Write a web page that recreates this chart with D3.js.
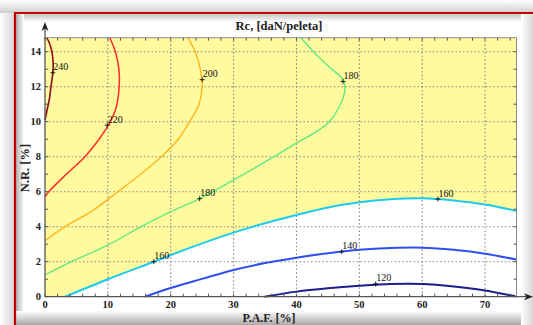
<!DOCTYPE html>
<html>
<head>
<meta charset="utf-8">
<script src="https://cdn.jsdelivr.net/npm/d3@7/dist/d3.min.js"></script>
<style>
  html, body { margin: 0; padding: 0; background: #fff; }
  svg { display: block; }
</style>
</head>
<body>
<svg id="chart" width="533" height="325"></svg>
<script>
// Contour lines of Rc [daN/peleta] over P.A.F. [%] (x) and N.R. [%] (y)
const levels = [240, 220, 200, 180, 160, 140, 120];

const line240 = [[0,10.1],[0.35,10.7],[0.7,11.3],[0.95,12],[1.25,12.8],[1.3,13.3],[1.1,14],[0.7,14.5],[0.25,14.8]];
const line220 = [[0,5.7],[0.6,6.0],[3.4,7],[6.35,8],[8.6,9],[10.4,10],[11.3,10.8],[11.8,12],[11.75,13],[11.2,14],[10.3,14.8]];
const line200 = [[0,3.2],[3.2,4],[7.7,4.95],[11.6,6],[15.2,7],[18.5,8],[21.2,9],[23,10],[24.5,11],[25,12],[24.7,13],[23.9,14],[22.7,14.8]];
const line180 = [[0,1.24],[4.2,2],[10,2.95],[15.3,4],[20,4.86],[24.6,5.6],[30,6.67],[35,7.7],[40,8.77],[43,9.4],[45.2,10],[47,11],[47.7,11.8],[47.4,12.4],[45.3,13.1],[42.7,14],[40.7,14.8]];
const line160 = [[3.2,0],[10,1],[17.3,2],[21.4,2.57],[25,3.05],[30,3.66],[35,4.2],[40,4.67],[45,5.1],[50,5.4],[55,5.57],[60,5.62],[65,5.5],[70,5.27],[75,4.9]];
const line140 = [[15.9,0],[20,0.5],[25,1.02],[30,1.53],[35,1.92],[40,2.23],[45,2.48],[50,2.68],[55,2.78],[60,2.8],[65,2.68],[70,2.46],[75,2.12]];
const line120 = [[34.9,0],[40,0.29],[45,0.48],[50,0.62],[55,0.72],[60,0.72],[65,0.58],[70,0.36],[74.8,0.02]];

// Label anchors (marked with "+") on the contour lines
const labelLevels = [240, 220, 200, 180, 180, 160, 160, 140, 120];
const labelX = [1.25, 9.9, 25, 47.4, 24.6, 17.3, 62.5, 47.2, 52.6];
const labelY = [12.8, 9.8, 12.4, 12.3, 5.6, 2.0, 5.58, 2.57, 0.73];

const xTicks = [0, 10, 20, 30, 40, 50, 60, 70];
const yTicks = [0, 2, 4, 6, 8, 10, 12, 14];

const titleText = "Rc, [daN/peleta]";
const xLabel = "P.A.F. [%]";
const yLabel = "N.R. [%]";

const xMax = 75, yMax = 14.8;

const svg = d3.select("#chart");
const W = 533, H = 325;
const serif = "'Liberation Serif', 'DejaVu Serif', serif";

// ---------- frame with soft shadows ----------
const defs = svg.append("defs");
function grad(id, x1, y1, x2, y2, c1, c2) {
  const g = defs.append("linearGradient").attr("id", id)
    .attr("x1", x1).attr("y1", y1).attr("x2", x2).attr("y2", y2);
  g.append("stop").attr("offset", "0%").attr("stop-color", c1);
  g.append("stop").attr("offset", "100%").attr("stop-color", c2);
}
grad("gOutLeft", 0, 0, 1, 0, "#ffffff", "#d4d4d4");
grad("gOutTop", 0, 0, 0, 1, "#ffffff", "#cfcfcf");
grad("gInTop", 0, 0, 0, 1, "#c4c4c4", "#ffffff");
grad("gInLeft", 0, 0, 1, 0, "#b0b0b0", "#ffffff");
grad("gInBottom", 0, 0, 0, 1, "#ffffff", "#a8a8a8");
grad("gInRight", 0, 0, 1, 0, "#ffffff", "#d6d6d6");

svg.append("rect").attr("width", W).attr("height", H).attr("fill", "#fff");
svg.append("rect").attr("x", 0).attr("y", 0).attr("width", 15).attr("height", H).attr("fill", "url(#gOutLeft)");
svg.append("rect").attr("x", 0).attr("y", 0).attr("width", W).attr("height", 13).attr("fill", "url(#gOutTop)");
svg.append("rect").attr("x", 16).attr("y", 14).attr("width", W - 16).attr("height", 8).attr("fill", "url(#gInTop)");
svg.append("rect").attr("x", 16).attr("y", 14).attr("width", 8).attr("height", H - 14).attr("fill", "url(#gInLeft)");
svg.append("rect").attr("x", 16).attr("y", 311).attr("width", W - 16).attr("height", 14).attr("fill", "url(#gInBottom)");
svg.append("rect").attr("x", 521).attr("y", 14).attr("width", 12).attr("height", H - 14).attr("fill", "url(#gInRight)");
svg.append("line").attr("x1", 15).attr("x2", W).attr("y1", 13).attr("y2", 13)
  .attr("stroke", "#c20000").attr("stroke-width", 2.2);
svg.append("line").attr("x1", 15).attr("x2", 15).attr("y1", 12).attr("y2", H)
  .attr("stroke", "#c20000").attr("stroke-width", 2.2);

// ---------- scales ----------
const x = d3.scaleLinear().domain([0, xMax]).range([45, 516.5]);
const y = d3.scaleLinear().domain([0, yMax]).range([296.7, 37.7]);

// densify a line (in pixel space) with Catmull-Rom so the filled edge follows the drawn contour
function smoothPoints(pts) {
  const node = document.createElementNS("http://www.w3.org/2000/svg", "path");
  node.setAttribute("d", d3.line().curve(d3.curveCatmullRom.alpha(0.5))(pts));
  svg.node().appendChild(node);
  const len = node.getTotalLength();
  const out = [];
  for (let i = 0; i <= 200; i++) {
    const p = node.getPointAtLength(len * i / 200);
    out.push([p.x, p.y]);
  }
  node.remove();
  return out;
}

// ---------- filled region above the 160 contour ----------
const edge160 = smoothPoints(line160.map(d => [x(d[0]), y(d[1])]));
const fillPx = [[x(0), y(0)]].concat(edge160, [[x(xMax), y(yMax)], [x(0), y(yMax)]]);
svg.append("path")
  .attr("d", d3.line()(fillPx) + "Z")
  .attr("fill", "#fffa9e");

// ---------- grid ----------
const grid = svg.append("g").attr("stroke", "#8a8a8a").attr("stroke-width", 1.1)
  .attr("stroke-dasharray", "1.6,2.2");
xTicks.filter(t => t > 0).forEach(t => {
  grid.append("line").attr("x1", x(t)).attr("x2", x(t)).attr("y1", y(0)).attr("y2", y(yMax));
});
yTicks.filter(t => t > 0).forEach(t => {
  grid.append("line").attr("x1", x(0)).attr("x2", x(xMax)).attr("y1", y(t)).attr("y2", y(t));
});

// ---------- contour lines ----------
const contourData = [
  { level: 240, pts: line240, color: "#8e0c1c", w: 1.6 },
  { level: 220, pts: line220, color: "#ff2a2a", w: 1.5 },
  { level: 200, pts: line200, color: "#ffb51e", w: 1.4 },
  { level: 180, pts: line180, color: "#62e882", w: 1.4 },
  { level: 160, pts: line160, color: "#1ccaf2", w: 2.0 },
  { level: 140, pts: line140, color: "#2f4ff0", w: 2.0 },
  { level: 120, pts: line120, color: "#1f1c8c", w: 2.0 }
];
const lineGen = d3.line().x(d => x(d[0])).y(d => y(d[1])).curve(d3.curveCatmullRom.alpha(0.5));
svg.append("g").selectAll("path").data(contourData).join("path")
  .attr("d", d => lineGen(d.pts))
  .attr("fill", "none")
  .attr("stroke", d => d.color)
  .attr("stroke-width", d => d.w)
  .attr("stroke-linejoin", "round");

// ---------- box, ticks and arrows ----------
const axisCol = "#555";
svg.append("line").attr("x1", x(0)).attr("x2", x(xMax)).attr("y1", y(yMax)).attr("y2", y(yMax))
  .attr("stroke", "#8c8c8c").attr("stroke-width", 1);
svg.append("line").attr("x1", x(xMax)).attr("x2", x(xMax)).attr("y1", y(0)).attr("y2", y(yMax))
  .attr("stroke", "#8c8c8c").attr("stroke-width", 1);

const ticks = svg.append("g").attr("stroke", axisCol).attr("stroke-width", 1);
d3.range(0, xMax, 2).forEach(t => {
  ticks.append("line").attr("x1", x(t)).attr("x2", x(t)).attr("y1", y(0)).attr("y2", y(0) - 3);
  ticks.append("line").attr("x1", x(t)).attr("x2", x(t)).attr("y1", y(yMax)).attr("y2", y(yMax) + 3);
});
d3.range(0, 15, 1).forEach(t => {
  ticks.append("line").attr("x1", x(0)).attr("x2", x(0) + 3).attr("y1", y(t)).attr("y2", y(t));
  ticks.append("line").attr("x1", x(xMax)).attr("x2", x(xMax) - 3).attr("y1", y(t)).attr("y2", y(t));
});

// main axes with arrow heads
svg.append("line").attr("x1", x(0)).attr("x2", x(0)).attr("y1", y(0)).attr("y2", 26)
  .attr("stroke", axisCol).attr("stroke-width", 1.3);
svg.append("line").attr("x1", x(0)).attr("x2", 529).attr("y1", y(0)).attr("y2", y(0))
  .attr("stroke", axisCol).attr("stroke-width", 1.3);
svg.append("path")
  .attr("d", `M${x(0)},22 L${x(0) - 3.5},31 L${x(0)},28.5 L${x(0) + 3.5},31 Z`)
  .attr("fill", "#222");
svg.append("path")
  .attr("d", `M533,${y(0)} L524,${y(0) - 3.5} L526.5,${y(0)} L524,${y(0) + 3.5} Z`)
  .attr("fill", "#222");

// tick labels
svg.append("g").selectAll("text").data(xTicks).join("text")
  .attr("x", d => x(d)).attr("y", y(0) + 11.5)
  .attr("text-anchor", "middle")
  .attr("font-family", serif).attr("font-weight", "bold").attr("font-size", 10.5)
  .attr("fill", "#222")
  .text(d => d);
svg.append("g").selectAll("text").data(yTicks).join("text")
  .attr("x", x(0) - 4).attr("y", d => y(d) + 3.6)
  .attr("text-anchor", "end")
  .attr("font-family", serif).attr("font-weight", "bold").attr("font-size", 10.5)
  .attr("fill", "#222")
  .text(d => d);

// title and axis labels
svg.append("text").attr("x", 279).attr("y", 29.5).attr("text-anchor", "middle")
  .attr("font-family", serif).attr("font-weight", "bold").attr("font-size", 12.5)
  .attr("fill", "#222").text(titleText);
svg.append("text").attr("x", 269).attr("y", 321.5).attr("text-anchor", "middle")
  .attr("font-family", serif).attr("font-weight", "bold").attr("font-size", 12)
  .attr("fill", "#222").text(xLabel);
svg.append("text").attr("transform", "translate(29,168) rotate(-90)").attr("text-anchor", "middle")
  .attr("font-family", serif).attr("font-weight", "bold").attr("font-size", 12.5)
  .attr("fill", "#222").text(yLabel);

// contour labels with "+" markers
const labels = labelLevels.map((v, i) => ({ v, px: x(labelX[i]), py: y(labelY[i]) }));
const lab = svg.append("g");
lab.selectAll("path").data(labels).join("path")
  .attr("d", d => `M${d.px - 2.5},${d.py} H${d.px + 2.5} M${d.px},${d.py - 2.5} V${d.py + 2.5}`)
  .attr("stroke", "#111").attr("stroke-width", 0.9);
lab.selectAll("text").data(labels).join("text")
  .attr("x", d => d.px + 0.5).attr("y", d => d.py - 2.5)
  .attr("font-family", serif).attr("font-size", 10)
  .attr("fill", "#111")
  .text(d => d.v);
</script>
</body>
</html>
